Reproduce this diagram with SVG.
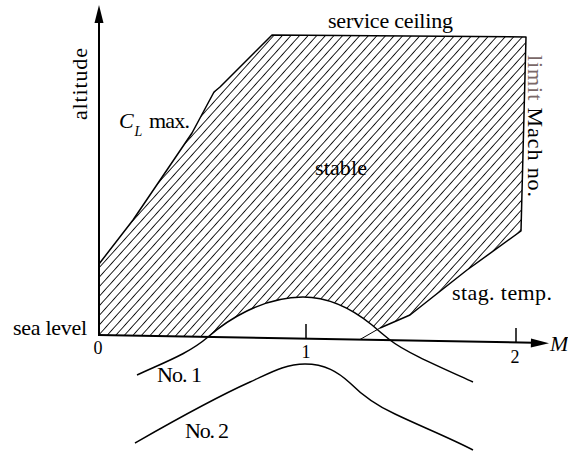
<svg xmlns="http://www.w3.org/2000/svg" width="568" height="454" viewBox="0 0 568 454">
<style>
text{font-family:"Liberation Serif","Times New Roman",serif;fill:#000;}
.lbl{font-size:22px;}
.num{font-size:18px;}
.it{font-style:italic;}
.edge{fill:none;stroke:#000;stroke-width:1.5;stroke-linejoin:round;}
.ax{fill:none;stroke:#000;stroke-width:2;}
.crv{fill:none;stroke:#000;stroke-width:1.5;}
</style>
<defs>
<pattern id="hatch" patternUnits="userSpaceOnUse" width="6.4" height="20" patternTransform="rotate(42)">
<line x1="3.2" y1="-2" x2="3.2" y2="22" stroke="#000" stroke-width="0.9"/>
</pattern>
</defs>
<rect width="568" height="454" fill="#fff"/>
<g id="stable-region">
<path d="M99,264 L133,220 L192,133 L214,92 L220,87 L272,35 L526,37 L521,231 L467,270 L410,315 L380,328 L360,339.5 L99,335 Z" fill="url(#hatch)"/>
<path d="M208,337 C226,321 262,297 303,297 C332,297 356,312 372,325 C380,332 385,336 390,340 Z" fill="#fff"/>
<path class="edge" d="M99,264 L133,220 L192,133 L214,92 L220,87 L272,35 L526,37 L521,231 L467,270 L410,315 L380,328"/>
<path d="M380,328 L360,339.5" fill="none" stroke="#000" stroke-width="1"/>
</g>
<g id="curves">
<path id="no1" class="crv" d="M137,375 C165,362 188,354 208,337 C226,321 262,297 303,297 C332,297 356,312 372,325 C380,332 385,336 390,340 C405,352 440,367 473,382"/>
<path id="no2" class="crv" d="M135,443 C170,423 210,400 250,382 C270,373 285,364 305,364 C325,364 338,372 350,383 C362,395 375,405 395,414 C420,426 450,438 473,450"/>
</g>
<g id="axes">
<line class="ax" x1="99" y1="336" x2="99" y2="20"/>
<polygon points="99,5 94.5,23 103.5,23" fill="#000"/>
<line class="ax" x1="98" y1="335" x2="534" y2="342.8"/>
<polygon points="549,343.2 531,338.6 530.8,347.6" fill="#000"/>
<line x1="306" y1="324" x2="306" y2="338.5" stroke="#000" stroke-width="1.5"/>
<line x1="516" y1="328" x2="516" y2="342.5" stroke="#000" stroke-width="1.5"/>
</g>
<g id="labels">
<text class="lbl" transform="translate(87,84) rotate(-90)" text-anchor="middle" textLength="72">altitude</text>
<text class="lbl" x="328" y="28" textLength="125">service ceiling</text>
<text class="lbl" x="315" y="175" textLength="52">stable</text>
<text class="lbl it" x="119" y="128">C</text>
<text class="it" x="134.5" y="136" font-size="14">L</text>
<text class="lbl" x="149" y="128" textLength="41">max.</text>
<text class="lbl" transform="translate(528,55) rotate(90)" textLength="142"><tspan fill="#7a6868">limit</tspan> Mach no.</text>
<text class="lbl" x="452" y="300" textLength="100">stag. temp.</text>
<text class="lbl" x="13" y="335" textLength="74">sea level</text>
<text class="num" x="98" y="354" text-anchor="middle">0</text>
<text class="num" x="306" y="358" text-anchor="middle">1</text>
<text class="num" x="515" y="363" text-anchor="middle">2</text>
<text class="lbl it" x="550" y="351">M</text>
<text class="lbl" x="157" y="382" textLength="45">No. 1</text>
<text class="lbl" x="185" y="438" textLength="44">No. 2</text>
</g>
</svg>
